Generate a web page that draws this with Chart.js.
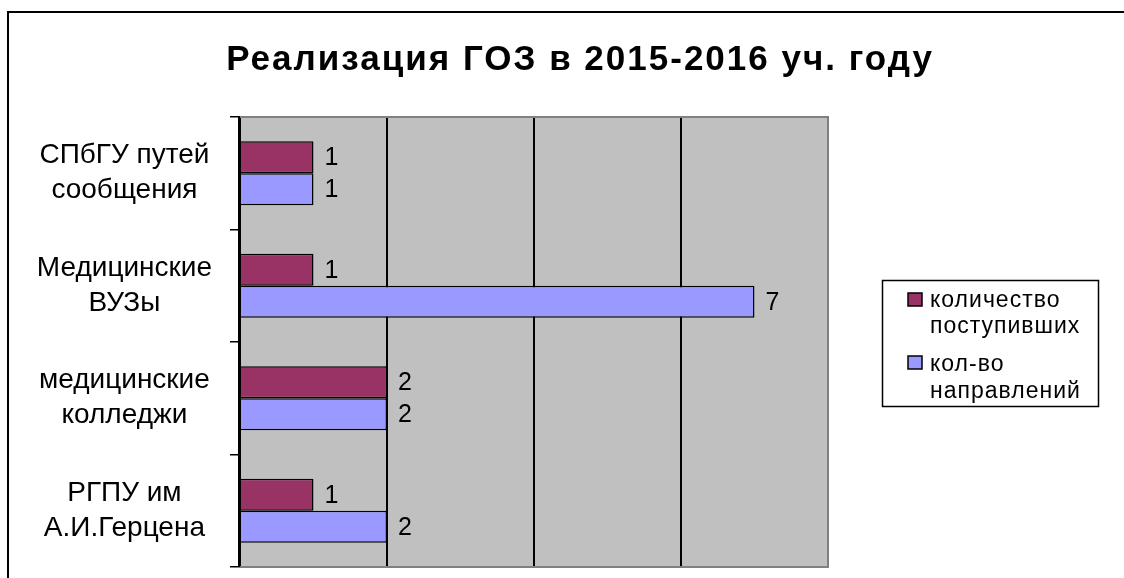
<!DOCTYPE html>
<html>
<head>
<meta charset="utf-8">
<script src="https://cdn.jsdelivr.net/npm/chart.js@4.4.1/dist/chart.umd.min.js"></script>
<style>
  html, body { margin: 0; padding: 0; background: #fff; }
  #wrap { width: 1124px; height: 578px; }
</style>
</head>
<body>
<div id="wrap"><canvas id="goz"></canvas></div>
<script>
// данные диаграммы
const categories = [
  ['СПбГУ путей', 'сообщения'],
  ['Медицинские', 'ВУЗы'],
  ['медицинские', 'колледжи'],
  ['РГПУ им', 'А.И.Герцена']
];
const seriesNames = [['количество', 'поступивших'], ['кол-во', 'направлений']];
const postupivshih = [1, 1, 2, 1];
const napravleniy = [1, 7, 2, 2];
const xTicks = [0, 2, 4, 6, 8];
const chartTitle = 'Реализация ГОЗ в 2015-2016 уч. году';

const FONT = 'Arial, "Liberation Sans", sans-serif';

// фон, рамка, заголовок и серая область построения
const framePlugin = {
  id: 'frame',
  beforeDraw(chart) {
    const ctx = chart.ctx;
    const a = chart.chartArea;
    ctx.save();
    ctx.fillStyle = '#fff';
    ctx.fillRect(0, 0, chart.width, chart.height);
    ctx.strokeStyle = '#000';
    ctx.lineWidth = 2;
    ctx.strokeRect(8, 12, 2000, 2000);
    ctx.fillStyle = '#C0C0C0';
    ctx.fillRect(a.left, a.top, a.right - a.left, a.bottom - a.top);
    // заголовок
    ctx.fillStyle = '#000';
    ctx.font = 'bold 35px ' + FONT;
    ctx.letterSpacing = '2px';
    ctx.textAlign = 'center';
    ctx.textBaseline = 'alphabetic';
    ctx.fillText(chartTitle, 580, 70);
    ctx.restore();
  },
  beforeDatasetsDraw(chart) {
    const ctx = chart.ctx;
    const a = chart.chartArea;
    ctx.save();
    ctx.strokeStyle = '#808080';
    ctx.lineWidth = 2;
    ctx.beginPath();
    ctx.moveTo(a.left, a.top);
    ctx.lineTo(a.right, a.top);
    ctx.lineTo(a.right, a.bottom);
    ctx.lineTo(a.left, a.bottom);
    ctx.stroke();
    // ось Y поверх
    ctx.strokeStyle = '#000';
    ctx.lineWidth = 2;
    ctx.beginPath();
    ctx.moveTo(a.left - 1, a.top);
    ctx.lineTo(a.left - 1, a.bottom);
    ctx.stroke();
    ctx.restore();
  }
};

// подписи значений справа от столбиков
const valuesPlugin = {
  id: 'values',
  afterDatasetsDraw(chart) {
    const ctx = chart.ctx;
    ctx.save();
    ctx.fillStyle = '#000';
    ctx.font = '25px ' + FONT;
    ctx.textAlign = 'left';
    ctx.textBaseline = 'middle';
    chart.data.datasets.forEach((ds, i) => {
      chart.getDatasetMeta(i).data.forEach((bar, j) => {
        ctx.fillText(ds.data[j], bar.x + 11, bar.y + 1);
      });
    });
    ctx.restore();
  }
};

// легенда в рамке справа
const legendBoxPlugin = {
  id: 'legendBox',
  afterDraw(chart) {
    const ctx = chart.ctx;
    ctx.save();
    ctx.fillStyle = '#fff';
    ctx.fillRect(882, 280, 216, 126);
    ctx.strokeStyle = '#000';
    ctx.lineWidth = 1.5;
    ctx.strokeRect(882.5, 280.5, 216, 126);
    ctx.font = '23px ' + FONT;
    ctx.letterSpacing = '1px';
    ctx.textAlign = 'left';
    ctx.textBaseline = 'alphabetic';
    const markerY = [293, 356];
    const baselines = [[307, 333], [371, 398]];
    chart.data.datasets.forEach((ds, i) => {
      ctx.fillStyle = ds.backgroundColor;
      ctx.fillRect(908, markerY[i], 14, 13);
      ctx.strokeStyle = '#000';
      ctx.lineWidth = 1.5;
      ctx.strokeRect(908, markerY[i], 14, 13);
      ctx.fillStyle = '#000';
      ds.label.forEach((line, k) => ctx.fillText(line, 930, baselines[i][k]));
    });
    ctx.restore();
  }
};

new Chart(document.getElementById('goz'), {
  type: 'bar',
  data: {
    labels: categories,
    datasets: [{
      label: seriesNames[0],
      data: postupivshih,
      backgroundColor: '#993366',
      borderColor: '#000',
      borderWidth: 1.5,
      categoryPercentage: 0.57,
      barPercentage: 1.0
    }, {
      label: seriesNames[1],
      data: napravleniy,
      backgroundColor: '#9999FF',
      borderColor: '#000',
      borderWidth: 1.5,
      categoryPercentage: 0.57,
      barPercentage: 1.0
    }]
  },
  options: {
    indexAxis: 'y',
    responsive: true,
    maintainAspectRatio: false,
    animation: false,
    events: [],
    layout: { padding: { left: 10, right: 296, top: 117, bottom: 11 } },
    scales: {
      x: {
        min: 0,
        max: 8,
        afterBuildTicks: s => { s.ticks = xTicks.map(v => ({ value: v })); },
        afterFit: s => { s.height = 0; s.paddingLeft = 0; s.paddingRight = 0; },
        ticks: { display: false },
        border: { display: false },
        grid: {
          drawTicks: false,
          color: c => (c.tick && c.tick.value === 8) ? '#808080' : '#000',
          lineWidth: 2
        }
      },
      y: {
        afterFit: s => { s.width = 230; s.paddingTop = 0; s.paddingBottom = 0; },
        border: { display: true, color: '#000', width: 2 },
        grid: { drawOnChartArea: false, drawTicks: true, tickLength: 10, color: '#000', lineWidth: 1.5 },
        ticks: {
          color: '#000',
          crossAlign: 'center',
          padding: 18,
          font: { family: FONT, size: 28, lineHeight: 1.25 }
        }
      }
    },
    plugins: {
      legend: { display: false },
      tooltip: { enabled: false },
      title: { display: false }
    }
  },
  plugins: [framePlugin, valuesPlugin, legendBoxPlugin]
});
</script>
</body>
</html>
